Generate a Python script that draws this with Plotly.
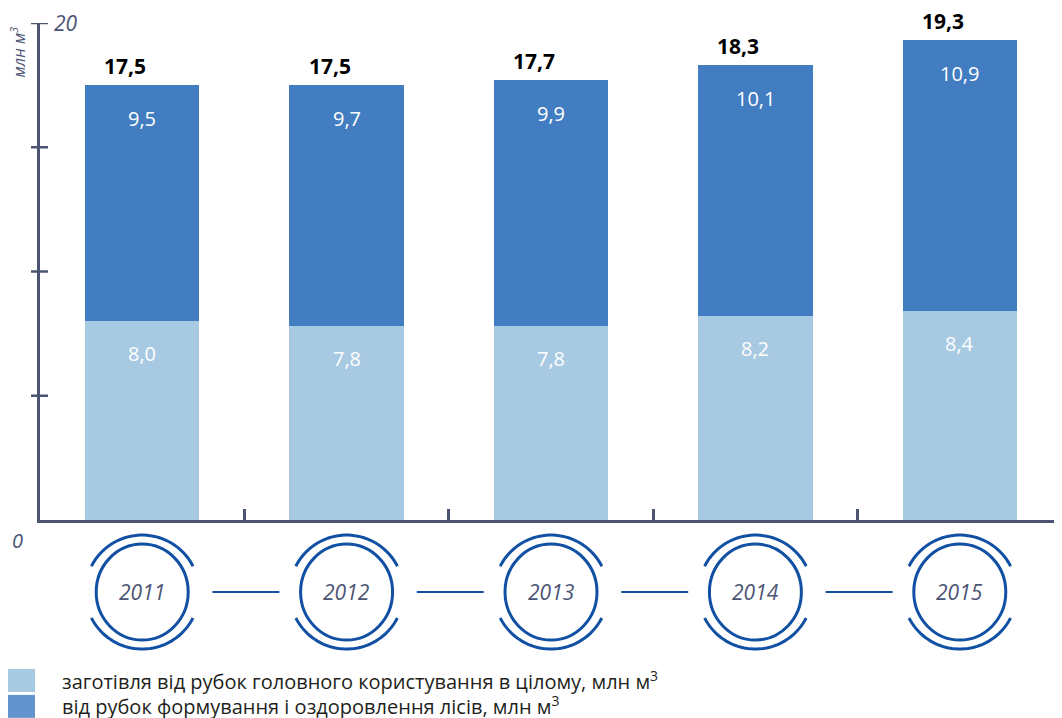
import numpy as np
import plotly.graph_objects as go

# Дані
years = ["2011", "2012", "2013", "2014", "2015"]
main_cut = [8.0, 7.8, 7.8, 8.2, 8.4]          # рубки головного користування
thinning = [9.5, 9.7, 9.9, 10.1, 10.9]        # рубки формування і оздоровлення
totals = [17.5, 17.5, 17.7, 18.3, 19.3]
y_ticks = [5, 10, 15, 20]

LIGHT = "#a7c9e2"
DARK = "#427dc1"
LEGEND_DARK = "#6394ce"
AXIS = "#4b5573"
RING = "#1150a3"
FONT = "Open Sans"


def fmt(v):
    return f"{v:.1f}".replace(".", ",")


fig = go.Figure()
fig.add_trace(go.Bar(x=years, y=main_cut, marker_color=LIGHT, marker_line_width=0,
                     name="заготівля від рубок головного користування в цілому, млн м³"))
fig.add_trace(go.Bar(x=years, y=thinning, marker_color=DARK, marker_line_width=0,
                     name="від рубок формування і оздоровлення лісів, млн м³"))

annotations = []
shapes = []

# підписи сегментів і підсумків (x - номер категорії)
for i, (a, b, t) in enumerate(zip(main_cut, thinning, totals)):
    annotations.append(dict(x=i, y=a, text=fmt(a), showarrow=False, yshift=-32,
                            font=dict(color="white", size=20, family=FONT)))
    annotations.append(dict(x=i, y=a + b, text=fmt(b), showarrow=False, yshift=-33,
                            font=dict(color="white", size=20, family=FONT)))
    annotations.append(dict(x=i, y=t, text=f"<b>{fmt(t)}</b>", showarrow=False,
                            yshift=19, xshift=-17,
                            font=dict(color="black", size=21, family=FONT)))

# хрестики на осі Y
for v in y_ticks:
    shapes.append(dict(type="line", xref="paper", xsizemode="pixel", xanchor=0,
                       x0=-9, x1=8, yref="y", y0=v, y1=v,
                       line=dict(color=AXIS, width=2.5)))

# кільця з роками
ring_y = -0.145
ang_top = np.radians(np.linspace(27, 153, 40))
ang_bot = np.radians(np.linspace(207, 333, 40))
r_out = 57


def arc_path(angles):
    pts = [f"{r_out * np.cos(t):.2f},{r_out * np.sin(t):.2f}" for t in angles]
    return "M" + " L".join(pts)


for i, yr in enumerate(years):
    shapes.append(dict(type="circle", xref="x", xsizemode="pixel", xanchor=i,
                       x0=-46, x1=46, yref="paper", ysizemode="pixel", yanchor=ring_y,
                       y0=-48, y1=48, line=dict(color=RING, width=3)))
    for ang in (ang_top, ang_bot):
        shapes.append(dict(type="path", xref="x", xsizemode="pixel", xanchor=i,
                           yref="paper", ysizemode="pixel", yanchor=ring_y,
                           path=arc_path(ang), line=dict(color=RING, width=3)))
    annotations.append(dict(x=i, y=ring_y, xref="x", yref="paper", text=f"<i>{yr}</i>",
                            showarrow=False, xanchor="center", yanchor="middle",
                            font=dict(color=AXIS, size=21, family=FONT)))
    if i < len(years) - 1:
        shapes.append(dict(type="line", xref="x", xsizemode="pixel", xanchor=i + 0.5,
                           x0=-32, x1=35, yref="paper", y0=ring_y, y1=ring_y,
                           line=dict(color=RING, width=2)))

# підписи осі Y
annotations += [
    dict(x=0, y=20, xref="paper", yref="y", text="<i>20</i>", showarrow=False,
         xanchor="left", xshift=12, font=dict(color=AXIS, size=21, family=FONT)),
    dict(x=0, y=0, xref="paper", yref="y", text="<i>0</i>", showarrow=False,
         xanchor="right", xshift=-15, yshift=-20, font=dict(color=AXIS, size=20, family=FONT)),
    dict(x=0, y=1, xref="paper", yref="paper", text="<i>млн м<sup>3</sup></i>",
         showarrow=False, textangle=-90, xanchor="center", yanchor="top",
         xshift=-22, yshift=-2, font=dict(color=AXIS, size=16, family=FONT)),
]

# легенда вручну
legend_items = [(LIGHT, fig.data[0].name), (LEGEND_DARK, fig.data[1].name)]
for k, (col, label) in enumerate(legend_items):
    y_mid = -0.322 - k * 0.052
    shapes.append(dict(type="rect", xref="paper", xsizemode="pixel", xanchor=0,
                       x0=-32, x1=-5, yref="paper", ysizemode="pixel", yanchor=y_mid,
                       y0=-12, y1=11, fillcolor=col, line_width=0))
    annotations.append(dict(x=0, y=y_mid, xref="paper", yref="paper",
                            text=label.replace("м³", "м<sup>3</sup>"), showarrow=False,
                            xanchor="left", yanchor="middle", xshift=20,
                            font=dict(color="#231f20", size=20, family=FONT)))

# сторінка має відступ 8 px, тому фігура трохи менша
fig.update_layout(
    width=1054,
    height=710,
    barmode="stack",
    bargap=0.44,
    showlegend=False,
    plot_bgcolor="white",
    paper_bgcolor="white",
    margin=dict(l=32, r=0, t=15, b=198),
    annotations=annotations,
    shapes=shapes,
    font=dict(family=FONT),
)
fig.update_xaxes(type="category", range=[-0.5, len(years) - 0.5], autorange=False,
                 showticklabels=False, showgrid=False, showline=True,
                 linecolor=AXIS, linewidth=3, ticks="inside", tickson="boundaries",
                 ticklen=11, tickwidth=2.5, tickcolor=AXIS)
fig.update_yaxes(range=[0, 20], showticklabels=False, showgrid=False, zeroline=False,
                 showline=True, linecolor=AXIS, linewidth=2.5, ticks="")

fig.write_html("out.html")
